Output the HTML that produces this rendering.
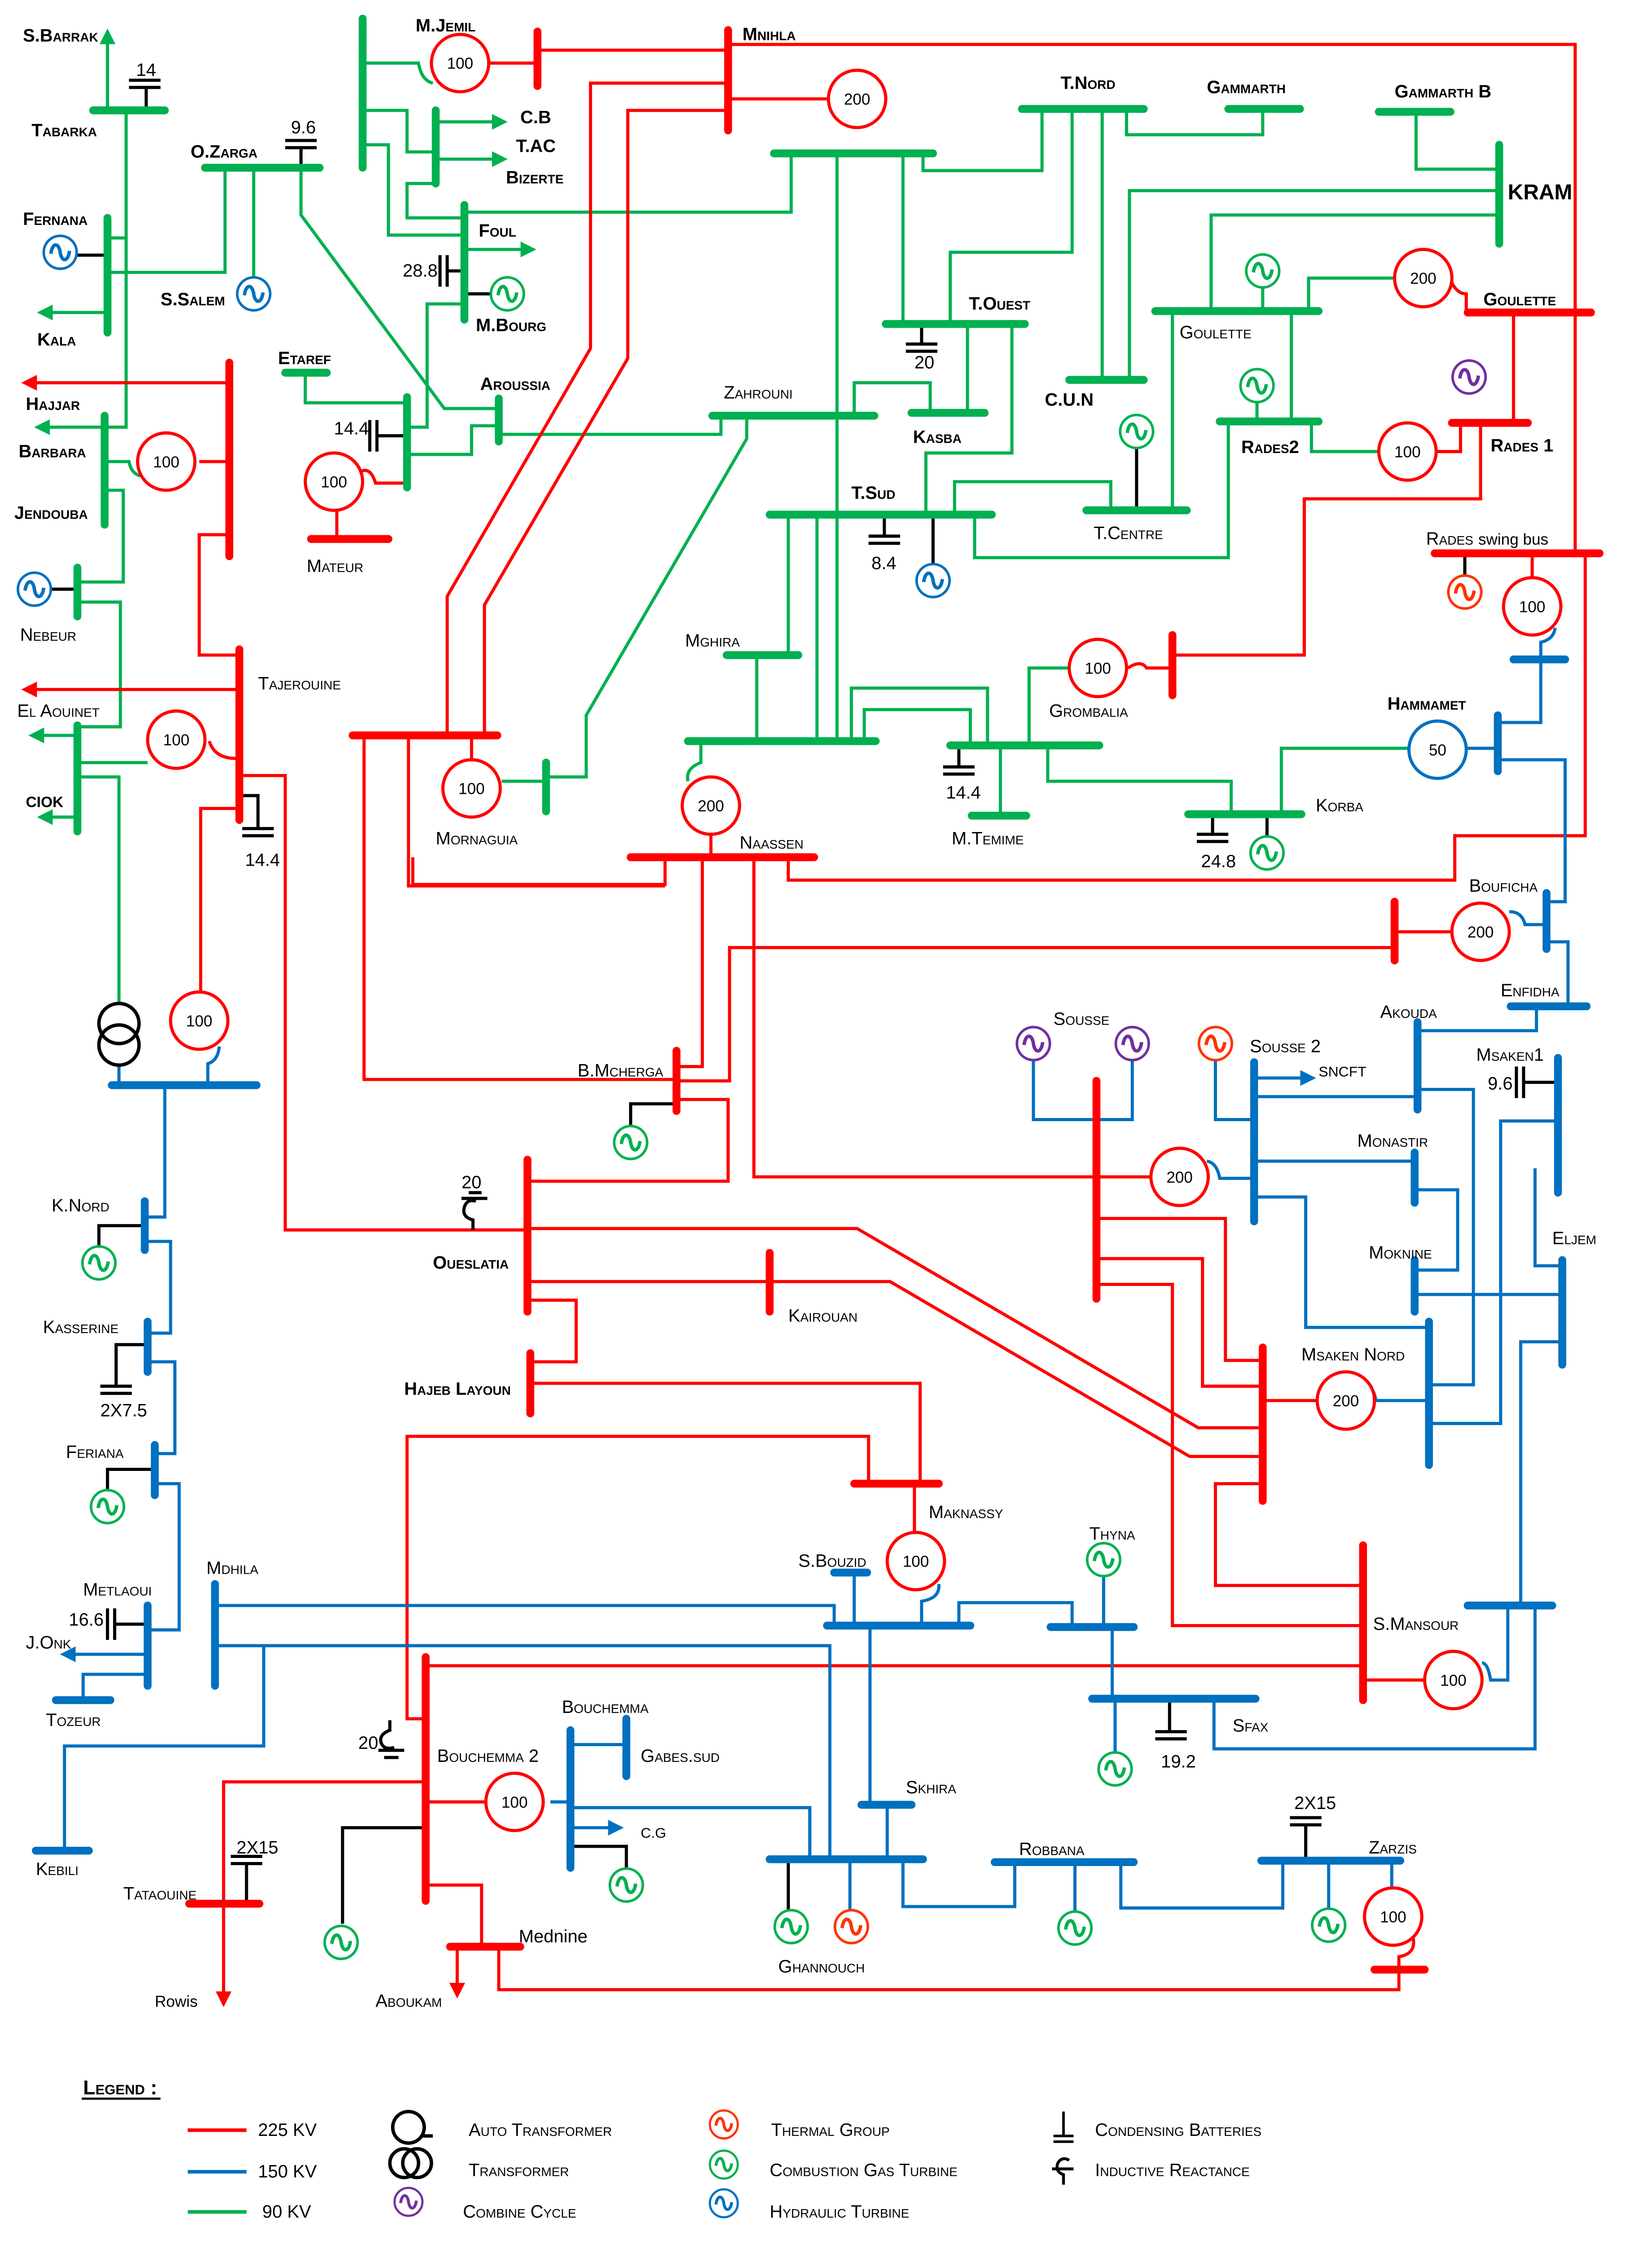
<!DOCTYPE html>
<html><head><meta charset="utf-8"><style>
html,body{margin:0;padding:0;background:#fff;width:3680px;height:5099px;overflow:hidden}
svg{display:block}
.r{stroke:#ff0000;fill:none;stroke-width:2.2}
.g{stroke:#00b050;fill:none;stroke-width:2.2}
.b{stroke:#0070c0;fill:none;stroke-width:2.2}
.k{stroke:#000;fill:none;stroke-width:2.2}
.rb{stroke:#ff0000;stroke-width:5.5;stroke-linecap:round}
.gb{stroke:#00b050;stroke-width:5.5;stroke-linecap:round}
.bb{stroke:#0070c0;stroke-width:5.5;stroke-linecap:round}
.G{fill:#fff;stroke:#ff0000;stroke-width:2.2}
text{font-family:"Liberation Sans",sans-serif;font-size:12.5px;font-variant:small-caps;fill:#000}
.n{font-size:11px;font-variant:normal}
.bd{font-weight:bold}
</style></head><body>
<svg width="3680" height="5099" viewBox="0 0 1152.6 1597.1" preserveAspectRatio="none" xmlns="http://www.w3.org/2000/svg">
<defs>
<symbol id="sg" viewBox="-13 -13 26 26"><circle r="11.5" fill="#fff" stroke="currentColor" stroke-width="1.8"/><path d="M-6.5,1 C-5.5,-7 -1,-7 0,0 S5.5,7 6.5,-1" fill="none" stroke="currentColor" stroke-width="2.4"/></symbol>
<marker id="ag" viewBox="0 0 10 10" refX="8" refY="5" markerWidth="5" markerHeight="5" orient="auto"><path d="M0,0 L10,5 L0,10 z" fill="#00b050"/></marker>
<marker id="ar" viewBox="0 0 10 10" refX="8" refY="5" markerWidth="5" markerHeight="5" orient="auto"><path d="M0,0 L10,5 L0,10 z" fill="#ff0000"/></marker>
<marker id="ab" viewBox="0 0 10 10" refX="8" refY="5" markerWidth="5" markerHeight="5" orient="auto"><path d="M0,0 L10,5 L0,10 z" fill="#0070c0"/></marker>
</defs>

<g class="g">
<path d="M75,77 V22" marker-end="url(#ag)"/>
<path d="M88,77 V166 H75"/>
<path d="M157,117 V190 H75"/>
<path d="M177,117 V193"/>
<path d="M75,218 H28" marker-end="url(#ag)"/>
<path d="M88,166 V298 H73"/>
<path d="M73,298 H26" marker-end="url(#ag)"/>
<path d="M73,322 H90 Q92,332 100,332"/>
<path d="M73,342 H86 V406 H54"/>
<path d="M54,420 H84 V507 H54"/>
<path d="M54,513 H22" marker-end="url(#ag)"/>
<path d="M54,532 H103"/>
<path d="M54,570 H28" marker-end="url(#ag)"/>
<path d="M54,542 H83 V699"/>
<path d="M210,117 V150 L310,285 H348"/>
<path d="M253,44 H292 Q294,56 302,58"/>
<path d="M253,77 H284 V106 H304"/>
<path d="M304,85 H352" marker-end="url(#ag)"/>
<path d="M304,111 H352" marker-end="url(#ag)"/>
<path d="M253,101 H271 V164 H324"/>
<path d="M304,128 H284 V152 H324"/>
<path d="M324,148 H552 V107"/>
<path d="M324,174 H372" marker-end="url(#ag)"/>
<path d="M324,212 H298 V298 H284"/>
<path d="M213,260 V281 H284"/>
<path d="M284,317 H329 V297 H348"/>
<path d="M348,303 H503 V290"/>
<path d="M521,290 V306 L409,499 V542 H381"/>
<path d="M584,107 V517"/>
<path d="M630,107 V226"/>
<path d="M644,107 V119 H727 V76"/>
<path d="M748,76 V176 H663 V226"/>
<path d="M769,76 V265"/>
<path d="M786,76 V94 H881 V76"/>
<path d="M988,78 V118 H1044"/>
<path d="M788,265 V133 H1044"/>
<path d="M845,217 V150 H1044"/>
<path d="M913,217 V194 H972"/>
<path d="M881,201 V217"/>
<path d="M818,217 V356"/>
<path d="M901,217 V294"/>
<path d="M877,281 V294"/>
<path d="M915,294 V315 H961"/>
<path d="M675,226 V288"/>
<path d="M596,290 V267 H649 V288"/>
<path d="M706,226 V316 H646 V359"/>
<path d="M666,359 V336 H775 V356"/>
<path d="M680,359 V389 H857 V294"/>
<path d="M550,359 V457"/>
<path d="M528,457 V517"/>
<path d="M570,359 V517"/>
<path d="M594,517 V480 H689 V520"/>
<path d="M603,517 V495 H677 V520"/>
<path d="M489,517 V532 Q478,536 480,545"/>
<path d="M698,520 V569"/>
<path d="M718,520 V466 H745"/>
<path d="M731,520 V545 H859 V568"/>
<path d="M894,568 V522 H983"/>
<path d="M350,545 H381"/>
</g>

<g class="r">
<path d="M160,267 H17" marker-end="url(#ar)"/>
<path d="M167,481 H17" marker-end="url(#ar)"/>
<path d="M139,322 H160"/>
<path d="M160,373 H139 V457 H167"/>
<path d="M146,517 Q150,530 167,529"/>
<path d="M167,541 H199 V858 H368"/>
<path d="M167,564 H140 V692"/>
<path d="M341,44 H375"/>
<path d="M375,35 H508"/>
<path d="M508,31 H1099 V386"/>
<path d="M508,58 H412 V243 L312,416 V513"/>
<path d="M508,77 H438 V250 L338,422 V513"/>
<path d="M508,69 H578"/>
<path d="M282,337 H262 Q258,324 250,330"/>
<path d="M235,356 V376"/>
<path d="M1012,195 Q1016,205 1023,205 V218"/>
<path d="M1056,218 V295"/>
<path d="M1002,315 H1019 V295"/>
<path d="M1033,295 V348 H910 V457 H818"/>
<path d="M787,466 Q796,460 800,466 H818"/>
<path d="M1069,386 V403"/>
<path d="M1106,386 V583 H1015 V614 H550 V598"/>
<path d="M464,598 V617 H288 V598"/>
<path d="M254,513 V753 H472"/>
<path d="M285,513 V618 H464"/>
<path d="M329,513 V530"/>
<path d="M496,582 V598"/>
<path d="M490,598 V744 H472"/>
<path d="M973,661 H509 V754 H472"/>
<path d="M973,650 H1012"/>
<path d="M526,598 V821 H802"/>
<path d="M472,767 H508 V824 H368"/>
<path d="M368,857 H598 L836,996 H881"/>
<path d="M368,894 H621 L830,1016 H881"/>
<path d="M368,907 H402 V950 H370"/>
<path d="M370,965 H642 V1035"/>
<path d="M606,1035 V1002 H284 V1199 H297"/>
<path d="M638,1035 V1070"/>
<path d="M765,850 H855 V949 H881"/>
<path d="M765,878 H839 V967 H881"/>
<path d="M765,896 H818 V1134 H951"/>
<path d="M881,977 H918"/>
<path d="M881,1035 H848 V1106 H951"/>
<path d="M951,1172 H993"/>
<path d="M297,1162 H951"/>
<path d="M297,1243 H156 V1398" marker-end="url(#ar)"/>
<path d="M297,1257 H338"/>
<path d="M297,1315 H336 V1358"/>
<path d="M319,1358 V1392" marker-end="url(#ar)"/>
<path d="M348,1358 V1388 H976 V1374"/>
<path d="M976,1374 V1365 Q988,1363 986,1352"/>
</g>

<g class="b">
<path d="M83,743 V757"/>
<path d="M145,757 V742 Q152,740 153,730"/>
<path d="M115,757 V849 H101"/>
<path d="M101,866 H119 V930 H103"/>
<path d="M103,950 H122 V1014 H107"/>
<path d="M107,1035 H125 V1137 H103"/>
<path d="M103,1154 H44" marker-end="url(#ab)"/>
<path d="M103,1168 H58 V1186"/>
<path d="M150,1120 H582 V1134"/>
<path d="M150,1148 H579 V1297"/>
<path d="M184,1148 V1218 H45 V1291"/>
<path d="M596,1097 V1134"/>
<path d="M643,1134 V1117 Q656,1115 655,1105"/>
<path d="M669,1134 V1118 H748 V1135"/>
<path d="M770,1100 V1135"/>
<path d="M776,1135 V1185"/>
<path d="M778,1185 V1222"/>
<path d="M607,1134 V1259"/>
<path d="M619,1259 V1297"/>
<path d="M565,1260 V1297"/>
<path d="M398,1261 H565 V1297"/>
<path d="M384,1257 H398"/>
<path d="M398,1275 H433" marker-end="url(#ab)"/>
<path d="M398,1217 H437"/>
<path d="M593,1297 V1332"/>
<path d="M630,1297 V1330 H708 V1299"/>
<path d="M750,1299 V1333"/>
<path d="M782,1299 V1331 H895 V1298"/>
<path d="M927,1298 V1331"/>
<path d="M971,1298 V1317"/>
<path d="M847,1185 V1220 H1071 V1120"/>
<path d="M1052,1120 V1172 H1040 Q1038,1160 1034,1160"/>
<path d="M1061,1120 V936 H1090"/>
<path d="M1071,815 V883 H1090"/>
<path d="M1087,782 H1047 V993 H997"/>
<path d="M989,760 H1028 V966 H997"/>
<path d="M875,810 H987"/>
<path d="M987,830 H1017 V886 H987"/>
<path d="M987,903 H1090"/>
<path d="M875,835 H911 V926 H997"/>
<path d="M875,765 H989"/>
<path d="M875,752 H916" marker-end="url(#ab)"/>
<path d="M848,740 V781 H875"/>
<path d="M721,740 V781 H790 V740"/>
<path d="M875,822 H851 Q849,811 842,810"/>
<path d="M997,977 H960 Q958,966 952,966"/>
<path d="M989,719 H1072 V702"/>
<path d="M1094,702 V657 H1079"/>
<path d="M1079,645 H1064 Q1062,636 1053,636"/>
<path d="M1045,530 H1092 V629 H1079"/>
<path d="M1045,522 H1024"/>
<path d="M1045,504 H1075 V460"/>
<path d="M1075,460 V448 Q1084,446 1085,438"/>
</g>

<g class="k">
<path d="M102,77 V61 M90,61 H112 M90,56 H112"/>
<path d="M210,117 V103 M199,103 H221 M199,98 H221"/>
<path d="M54,178 H75"/>
<path d="M24,411 H54"/>
<path d="M324,189 H312 M312,178 V200 M307,178 V200"/>
<path d="M324,205 H342"/>
<path d="M284,304 H263 M263,293 V315 M258,293 V315"/>
<path d="M643,226 V240 M632,240 H654 M632,245 H654"/>
<path d="M617,359 V374 M606,374 H628 M606,379 H628"/>
<path d="M651,359 V393"/>
<path d="M793,313 V356"/>
<path d="M669,520 V535 M658,535 H680 M658,540 H680"/>
<path d="M846,568 V582 M835,582 H857 M835,587 H857"/>
<path d="M884,568 V584"/>
<path d="M1022,386 V401"/>
<path d="M1087,755 H1063 M1063,744 V766 M1058,744 V766"/>
<path d="M167,555 H180 V578 M169,578 H191 M169,583 H191"/>
<path d="M472,770 H440 V785"/>
<path d="M101,855 H69 V869"/>
<path d="M103,938 H81 V967 M70,967 H92 M70,972 H92"/>
<path d="M107,1025 H75 V1039"/>
<path d="M103,1133 H80 M80,1122 V1144 M75,1122 V1144"/>
<path d="M816,1185 V1208 M806,1208 H828 M806,1213 H828"/>
<path d="M911,1298 V1273 M900,1273 H922 M900,1268 H922"/>
<path d="M172,1328 V1300 M161,1300 H183 M161,1295 H183"/>
<path d="M297,1275 H239 V1342"/>
<path d="M398,1288 H437 V1303"/>
<path d="M550,1297 V1332"/>
<path d="M330,858 V851 Q322,849 324,842 Q326,836 332,838 M322,836 H340 M327,832 H336"/>
<path d="M272,1200 V1207 Q264,1210 266,1216 Q268,1221 275,1219 M264,1221 H282 M268,1226 H278"/>
</g>

<g>
<line class="gb" x1="65" y1="77" x2="115" y2="77"/>
<line class="gb" x1="143" y1="117" x2="223" y2="117"/>
<line class="gb" x1="75" y1="152" x2="75" y2="232"/>
<line class="gb" x1="73" y1="290" x2="73" y2="366"/>
<line class="gb" x1="54" y1="396" x2="54" y2="430"/>
<line class="gb" x1="54" y1="506" x2="54" y2="580"/>
<line class="gb" x1="253" y1="13" x2="253" y2="117"/>
<line class="gb" x1="304" y1="77" x2="304" y2="128"/>
<line class="gb" x1="324" y1="143" x2="324" y2="223"/>
<line class="gb" x1="199" y1="260" x2="228" y2="260"/>
<line class="gb" x1="284" y1="277" x2="284" y2="340"/>
<line class="gb" x1="348" y1="278" x2="348" y2="308"/>
<line class="gb" x1="381" y1="532" x2="381" y2="566"/>
<line class="gb" x1="497" y1="290" x2="610" y2="290"/>
<line class="gb" x1="540" y1="107" x2="651" y2="107"/>
<line class="gb" x1="713" y1="76" x2="798" y2="76"/>
<line class="gb" x1="857" y1="76" x2="907" y2="76"/>
<line class="gb" x1="962" y1="78" x2="1012" y2="78"/>
<line class="gb" x1="1046" y1="101" x2="1046" y2="170"/>
<line class="gb" x1="618" y1="226" x2="715" y2="226"/>
<line class="gb" x1="746" y1="265" x2="798" y2="265"/>
<line class="gb" x1="806" y1="217" x2="920" y2="217"/>
<line class="gb" x1="636" y1="288" x2="687" y2="288"/>
<line class="gb" x1="851" y1="294" x2="920" y2="294"/>
<line class="gb" x1="537" y1="359" x2="692" y2="359"/>
<line class="gb" x1="758" y1="356" x2="828" y2="356"/>
<line class="gb" x1="507" y1="457" x2="557" y2="457"/>
<line class="gb" x1="480" y1="517" x2="611" y2="517"/>
<line class="gb" x1="663" y1="520" x2="767" y2="520"/>
<line class="gb" x1="678" y1="569" x2="716" y2="569"/>
<line class="gb" x1="829" y1="568" x2="908" y2="568"/>

<line class="rb" x1="160" y1="253" x2="160" y2="388"/>
<line class="rb" x1="167" y1="453" x2="167" y2="572"/>
<line class="rb" x1="375" y1="22" x2="375" y2="60"/>
<line class="rb" x1="508" y1="21" x2="508" y2="91"/>
<line class="rb" x1="217" y1="376" x2="271" y2="376"/>
<line class="rb" x1="1024" y1="218" x2="1110" y2="218"/>
<line class="rb" x1="1013" y1="295" x2="1066" y2="295"/>
<line class="rb" x1="1001" y1="386" x2="1116" y2="386"/>
<line class="rb" x1="818" y1="443" x2="818" y2="485"/>
<line class="rb" x1="246" y1="513" x2="347" y2="513"/>
<line class="rb" x1="440" y1="598" x2="568" y2="598"/>
<line class="rb" x1="973" y1="629" x2="973" y2="670"/>
<line class="rb" x1="472" y1="733" x2="472" y2="775"/>
<line class="rb" x1="368" y1="809" x2="368" y2="915"/>
<line class="rb" x1="537" y1="874" x2="537" y2="915"/>
<line class="rb" x1="370" y1="944" x2="370" y2="986"/>
<line class="rb" x1="596" y1="1035" x2="655" y2="1035"/>
<line class="rb" x1="765" y1="754" x2="765" y2="906"/>
<line class="rb" x1="881" y1="940" x2="881" y2="1047"/>
<line class="rb" x1="951" y1="1078" x2="951" y2="1186"/>
<line class="rb" x1="297" y1="1156" x2="297" y2="1326"/>
<line class="rb" x1="132" y1="1328" x2="181" y2="1328"/>
<line class="rb" x1="314" y1="1358" x2="363" y2="1358"/>
<line class="rb" x1="959" y1="1374" x2="994" y2="1374"/>

<line class="bb" x1="78" y1="757" x2="179" y2="757"/>
<line class="bb" x1="101" y1="838" x2="101" y2="872"/>
<line class="bb" x1="103" y1="922" x2="103" y2="957"/>
<line class="bb" x1="108" y1="1008" x2="108" y2="1043"/>
<line class="bb" x1="103" y1="1120" x2="103" y2="1176"/>
<line class="bb" x1="39" y1="1186" x2="77" y2="1186"/>
<line class="bb" x1="25" y1="1291" x2="62" y2="1291"/>
<line class="bb" x1="150" y1="1105" x2="150" y2="1176"/>
<line class="bb" x1="582" y1="1097" x2="605" y2="1097"/>
<line class="bb" x1="577" y1="1134" x2="677" y2="1134"/>
<line class="bb" x1="733" y1="1135" x2="791" y2="1135"/>
<line class="bb" x1="762" y1="1185" x2="876" y2="1185"/>
<line class="bb" x1="601" y1="1259" x2="636" y2="1259"/>
<line class="bb" x1="537" y1="1297" x2="644" y2="1297"/>
<line class="bb" x1="694" y1="1299" x2="791" y2="1299"/>
<line class="bb" x1="880" y1="1298" x2="977" y2="1298"/>
<line class="bb" x1="398" y1="1207" x2="398" y2="1303"/>
<line class="bb" x1="437" y1="1199" x2="437" y2="1239"/>
<line class="bb" x1="1056" y1="460" x2="1092" y2="460"/>
<line class="bb" x1="1045" y1="499" x2="1045" y2="538"/>
<line class="bb" x1="1079" y1="623" x2="1079" y2="662"/>
<line class="bb" x1="1054" y1="702" x2="1107" y2="702"/>
<line class="bb" x1="989" y1="713" x2="989" y2="774"/>
<line class="bb" x1="875" y1="741" x2="875" y2="852"/>
<line class="bb" x1="987" y1="804" x2="987" y2="839"/>
<line class="bb" x1="987" y1="879" x2="987" y2="915"/>
<line class="bb" x1="1087" y1="738" x2="1087" y2="832"/>
<line class="bb" x1="1090" y1="879" x2="1090" y2="952"/>
<line class="bb" x1="997" y1="922" x2="997" y2="1022"/>
<line class="bb" x1="1024" y1="1120" x2="1083" y2="1120"/>
</g>

<circle cx="83" cy="714" r="14" fill="none" stroke="#000" stroke-width="2.4"/>
<circle cx="83" cy="729" r="14" fill="none" stroke="#000" stroke-width="2.4"/>

<g>
<circle class="G" cx="321" cy="44" r="20"/><text class="n" x="321" y="48" text-anchor="middle">100</text>
<circle class="G" cx="598" cy="69" r="20"/><text class="n" x="598" y="73" text-anchor="middle">200</text>
<circle class="G" cx="116" cy="322" r="20"/><text class="n" x="116" y="326" text-anchor="middle">100</text>
<circle class="G" cx="233" cy="336" r="20"/><text class="n" x="233" y="340" text-anchor="middle">100</text>
<circle class="G" cx="123" cy="516" r="20"/><text class="n" x="123" y="520" text-anchor="middle">100</text>
<circle class="G" cx="139" cy="712" r="20"/><text class="n" x="139" y="716" text-anchor="middle">100</text>
<circle class="G" cx="329" cy="550" r="20"/><text class="n" x="329" y="554" text-anchor="middle">100</text>
<circle class="G" cx="496" cy="562" r="20"/><text class="n" x="496" y="566" text-anchor="middle">200</text>
<circle class="G" cx="993" cy="194" r="20"/><text class="n" x="993" y="198" text-anchor="middle">200</text>
<circle class="G" cx="982" cy="315" r="20"/><text class="n" x="982" y="319" text-anchor="middle">100</text>
<circle class="G" cx="1069" cy="423" r="20"/><text class="n" x="1069" y="427" text-anchor="middle">100</text>
<circle class="G" cx="766" cy="466" r="20"/><text class="n" x="766" y="470" text-anchor="middle">100</text>
<circle cx="1003" cy="523" r="20" fill="#fff" stroke="#0070c0" stroke-width="2.2"/><text class="n" x="1003" y="527" text-anchor="middle">50</text>
<circle class="G" cx="1033" cy="650" r="20"/><text class="n" x="1033" y="654" text-anchor="middle">200</text>
<circle class="G" cx="823" cy="821" r="20"/><text class="n" x="823" y="825" text-anchor="middle">200</text>
<circle class="G" cx="939" cy="977" r="20"/><text class="n" x="939" y="981" text-anchor="middle">200</text>
<circle class="G" cx="639" cy="1089" r="20"/><text class="n" x="639" y="1093" text-anchor="middle">100</text>
<circle class="G" cx="1014" cy="1172" r="20"/><text class="n" x="1014" y="1176" text-anchor="middle">100</text>
<circle class="G" cx="359" cy="1257" r="20"/><text class="n" x="359" y="1261" text-anchor="middle">100</text>
<circle class="G" cx="972" cy="1337" r="20"/><text class="n" x="972" y="1341" text-anchor="middle">100</text>
</g>

<g>
<use href="#sg" x="29" y="163" width="26" height="26" style="color:#0070c0"/>
<use href="#sg" x="164" y="192" width="26" height="26" style="color:#0070c0"/>
<use href="#sg" x="341" y="192" width="26" height="26" style="color:#00b050"/>
<use href="#sg" x="11" y="398" width="26" height="26" style="color:#0070c0"/>
<use href="#sg" x="868" y="176" width="26" height="26" style="color:#00b050"/>
<use href="#sg" x="864" y="256" width="26" height="26" style="color:#00b050"/>
<use href="#sg" x="1012" y="250" width="26" height="26" style="color:#7030a0"/>
<use href="#sg" x="780" y="288" width="26" height="26" style="color:#00b050"/>
<use href="#sg" x="638" y="392" width="26" height="26" style="color:#0070c0"/>
<use href="#sg" x="1009" y="400" width="26" height="26" style="color:#ff3300"/>
<use href="#sg" x="871" y="582" width="26" height="26" style="color:#00b050"/>
<use href="#sg" x="427" y="784" width="26" height="26" style="color:#00b050"/>
<use href="#sg" x="708" y="715" width="26" height="26" style="color:#7030a0"/>
<use href="#sg" x="777" y="715" width="26" height="26" style="color:#7030a0"/>
<use href="#sg" x="835" y="715" width="26" height="26" style="color:#ff3300"/>
<use href="#sg" x="56" y="868" width="26" height="26" style="color:#00b050"/>
<use href="#sg" x="62" y="1038" width="26" height="26" style="color:#00b050"/>
<use href="#sg" x="757" y="1075" width="26" height="26" style="color:#00b050"/>
<use href="#sg" x="765" y="1221" width="26" height="26" style="color:#00b050"/>
<use href="#sg" x="424" y="1302" width="26" height="26" style="color:#00b050"/>
<use href="#sg" x="225" y="1342" width="26" height="26" style="color:#00b050"/>
<use href="#sg" x="539" y="1331" width="26" height="26" style="color:#00b050"/>
<use href="#sg" x="581" y="1331" width="26" height="26" style="color:#ff3300"/>
<use href="#sg" x="737" y="1332" width="26" height="26" style="color:#00b050"/>
<use href="#sg" x="914" y="1330" width="26" height="26" style="color:#00b050"/>
</g>

<g class="bd">
<text x="16" y="29">S.Barrak</text>
<text x="22" y="95">Tabarka</text>
<text x="133" y="110">O.Zarga</text>
<text x="16" y="157">Fernana</text>
<text x="112" y="213">S.Salem</text>
<text x="26" y="241">Kala</text>
<text x="18" y="286">Hajjar</text>
<text x="13" y="319">Barbara</text>
<text x="10" y="362">Jendouba</text>
<text x="18" y="563" style="font-size:10.5px">CIOK</text>
<text x="194" y="254">Etaref</text>
<text x="335" y="272">Aroussia</text>
<text x="290" y="22">M.Jemil</text>
<text x="363" y="86">C.B</text>
<text x="360" y="106">T.AC</text>
<text x="353" y="128">Bizerte</text>
<text x="334" y="165">Foul</text>
<text x="332" y="231">M.Bourg</text>
<text x="518" y="28">Mnihla</text>
<text x="740" y="62">T.Nord</text>
<text x="842" y="65">Gammarth</text>
<text x="973" y="68">Gammarth B</text>
<text x="1052" y="139" style="font-size:15px;font-variant:normal">KRAM</text>
<text x="1035" y="213">Goulette</text>
<text x="676" y="216">T.Ouest</text>
<text x="637" y="309">Kasba</text>
<text x="729" y="283" style="font-variant:normal">C.U.N</text>
<text x="866" y="316">Rades2</text>
<text x="1040" y="315">Rades 1</text>
<text x="594" y="348">T.Sud</text>
<text x="968" y="495">Hammamet</text>
</g>
<g>
<text x="12" y="500">El Aouinet</text>
<text x="14" y="447">Nebeur</text>
<text x="180" y="481">Tajerouine</text>
<text x="214" y="399">Mateur</text>
<text x="823" y="236">Goulette</text>
<text x="505" y="278">Zahrouni</text>
<text x="763" y="376">T.Centre</text>
<text x="995" y="380">Rades <tspan style="font-variant:normal;font-size:11px">swing bus</tspan></text>
<text x="478" y="451">Mghira</text>
<text x="732" y="500">Grombalia</text>
<text x="918" y="566">Korba</text>
<text x="664" y="589">M.Temime</text>
<text x="304" y="589">Mornaguia</text>
<text x="516" y="592">Naassen</text>
<text x="1025" y="622">Bouficha</text>
<text x="1047" y="695">Enfidha</text>
<text x="963" y="710">Akouda</text>
<text x="735" y="715">Sousse</text>
<text x="872" y="734">Sousse 2</text>
<text x="920" y="751" style="font-size:10px;font-variant:normal">SNCFT</text>
<text x="1030" y="740">Msaken1</text>
<text x="947" y="800">Monastir</text>
<text x="955" y="878">Moknine</text>
<text x="1083" y="868">Eljem</text>
<text x="908" y="949">Msaken Nord</text>
<text x="403" y="751">B.Mcherga</text>
<text x="302" y="885" class="bd">Oueslatia</text>
<text x="550" y="922">Kairouan</text>
<text x="282" y="973" class="bd">Hajeb Layoun</text>
<text x="648" y="1059">Maknassy</text>
<text x="557" y="1093">S.Bouzid</text>
<text x="760" y="1074">Thyna</text>
<text x="958" y="1137">S.Mansour</text>
<text x="860" y="1208">Sfax</text>
<text x="36" y="845">K.Nord</text>
<text x="30" y="930">Kasserine</text>
<text x="46" y="1017">Feriana</text>
<text x="144" y="1098">Mdhila</text>
<text x="58" y="1113">Metlaoui</text>
<text x="18" y="1150">J.Onk</text>
<text x="32" y="1204">Tozeur</text>
<text x="25" y="1308">Kebili</text>
<text x="86" y="1325">Tataouine</text>
<text x="108" y="1400" style="font-variant:normal;font-size:11px">Rowis</text>
<text x="262" y="1400">Aboukam</text>
<text x="392" y="1195">Bouchemma</text>
<text x="305" y="1229">Bouchemma 2</text>
<text x="447" y="1229">Gabes.sud</text>
<text x="447" y="1282" style="font-size:10px">C.G</text>
<text x="632" y="1251">Skhira</text>
<text x="711" y="1294">Robbana</text>
<text x="955" y="1293">Zarzis</text>
<text x="543" y="1376">Ghannouch</text>
<text x="362" y="1355" style="font-variant:normal">Mednine</text>
</g>
<g class="n" style="font-size:10px">
<text x="95" y="53">14</text><text x="203" y="93">9.6</text>
<text x="281" y="193">28.8</text><text x="233" y="303">14.4</text>
<text x="638" y="257">20</text><text x="608" y="397">8.4</text>
<text x="660" y="557">14.4</text><text x="838" y="605">24.8</text>
<text x="171" y="604">14.4</text><text x="322" y="829">20</text>
<text x="1038" y="760">9.6</text><text x="70" y="988">2X7.5</text>
<text x="48" y="1134">16.6</text><text x="250" y="1220">20</text>
<text x="165" y="1293">2X15</text><text x="903" y="1262">2X15</text>
<text x="810" y="1233">19.2</text>
</g>

<text x="58" y="1461" class="bd" style="font-size:14px">Legend :</text>
<line x1="57" y1="1464" x2="112" y2="1464" stroke="#000" stroke-width="1.5"/>
<line x1="131" y1="1486" x2="172" y2="1486" stroke="#ff0000" stroke-width="2.5"/>
<line x1="131" y1="1515" x2="172" y2="1515" stroke="#0070c0" stroke-width="2.5"/>
<line x1="131" y1="1543" x2="172" y2="1543" stroke="#00b050" stroke-width="2.5"/>
<g style="font-size:10.5px">
<text x="180" y="1490">225 KV</text>
<text x="180" y="1519">150 KV</text>
<text x="183" y="1547">90 KV</text>
<text x="327" y="1490">Auto Transformer</text>
<text x="327" y="1518">Transformer</text>
<text x="323" y="1547">Combine Cycle</text>
<text x="538" y="1490">Thermal Group</text>
<text x="537" y="1518">Combustion Gas Turbine</text>
<text x="537" y="1547">Hydraulic Turbine</text>
<text x="764" y="1490">Condensing Batteries</text>
<text x="764" y="1518">Inductive Reactance</text>
</g>
<circle cx="285" cy="1484" r="11" fill="none" stroke="#000" stroke-width="2.4"/>
<path d="M294,1490 H302" stroke="#000" stroke-width="2.4"/>
<circle cx="282" cy="1509" r="10" fill="none" stroke="#000" stroke-width="2.4"/>
<circle cx="291" cy="1509" r="10" fill="none" stroke="#000" stroke-width="2.4"/>
<use href="#sg" x="274" y="1525" width="22" height="22" style="color:#7030a0"/>
<use href="#sg" x="494" y="1471" width="22" height="22" style="color:#ff3300"/>
<use href="#sg" x="494" y="1499" width="22" height="22" style="color:#00b050"/>
<use href="#sg" x="494" y="1526" width="22" height="22" style="color:#0070c0"/>
<path d="M742,1473 V1490 M735,1490 H749 M735,1494 H749" stroke="#000" stroke-width="1.8" fill="none"/>
<path d="M734,1513 H749 M742,1524 V1517 Q736,1515 738,1509 Q741,1504 746,1507" stroke="#000" stroke-width="2" fill="none"/>
</svg>
</body></html>
